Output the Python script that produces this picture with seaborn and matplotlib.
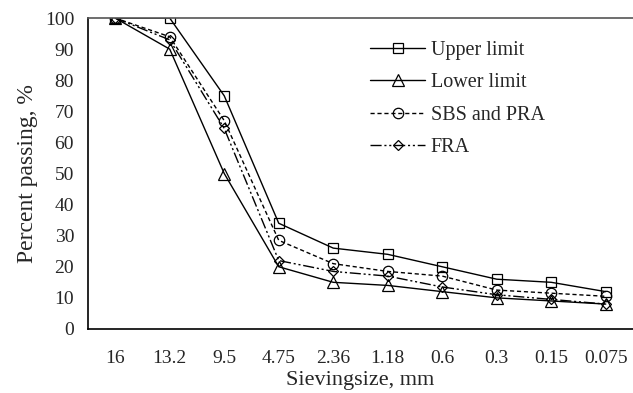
import matplotlib
matplotlib.use("Agg")
import matplotlib.pyplot as plt
import seaborn as sns
import numpy as np
import pandas as pd

# Sieve sizes and gradation data
sieve_sizes = ["16", "13.2", "9.5", "4.75", "2.36", "1.18", "0.6", "0.3", "0.15", "0.075"]
upper_limit = [100, 100, 75, 34, 26, 24, 20, 16, 15, 12]
lower_limit = [100, 90, 50, 20, 15, 14, 12, 10, 9, 8]
sbs_pra = [100, 94, 67, 28.5, 21, 18.5, 17, 12.5, 11.5, 10.5]
fra = [100, 93, 64.5, 22, 18.5, 17, 13.5, 11, 9.5, 8]

sns.set_style("white")
plt.rcParams["font.family"] = ["Liberation Serif", "DejaVu Serif"]

fig = plt.figure(figsize=(6.33, 3.93), dpi=100)
ax = fig.add_axes([0.139, 0.163, 0.861, 0.791])

pos = np.arange(len(sieve_sizes))
series = [
    ("Upper limit", upper_limit, "s", "-", 7.5),
    ("Lower limit", lower_limit, "^", "-", 8),
    ("SBS and PRA", sbs_pra, "o", (0, (3, 2)), 7.5),
    ("FRA", fra, "D", (0, (8, 2, 1.5, 2, 1.5, 2)), 5.5),
]
for name, vals, mk, ls, ms in series:
    df = pd.DataFrame({"x": pos, "y": vals})
    sns.lineplot(data=df, x="x", y="y", ax=ax, color="black", linewidth=1.0,
                 linestyle=ls, marker=mk, markersize=ms,
                 markerfacecolor="none", markeredgecolor="black",
                 markeredgewidth=0.9, label=name)

ax.set_xlim(-0.5, 9.5)
ax.set_ylim(0, 100)
ax.set_yticks(range(0, 101, 10))
ax.set_xticks(pos)
ax.set_xticklabels(sieve_sizes)
ax.set_xticks(np.arange(-0.5, 9.5, 1), minor=True)
ax.tick_params(axis="x", which="major", length=0, labelsize=14, pad=15)
ax.tick_params(axis="x", which="minor", length=5, width=1, direction="out", color="black")
ax.tick_params(axis="y", length=5, width=1, direction="out", labelsize=14, pad=5, color="black")

for s in ["left", "bottom"]:
    ax.spines[s].set_color("black")
    ax.spines[s].set_linewidth(1.2)
ax.spines["top"].set_color("#555555")
ax.spines["top"].set_linewidth(1.2)
ax.spines["right"].set_visible(False)

ax.set_xlabel("Sievingsize, mm", fontsize=16, labelpad=3)
ax.set_ylabel("Percent passing, %", fontsize=17, labelpad=5)

leg = ax.legend(loc="upper left", bbox_to_anchor=(0.485, 0.985), frameon=False,
                fontsize=14.5, handlelength=2.7, handletextpad=0.3, labelspacing=0.66)

fig.savefig("out.png", dpi=100)
